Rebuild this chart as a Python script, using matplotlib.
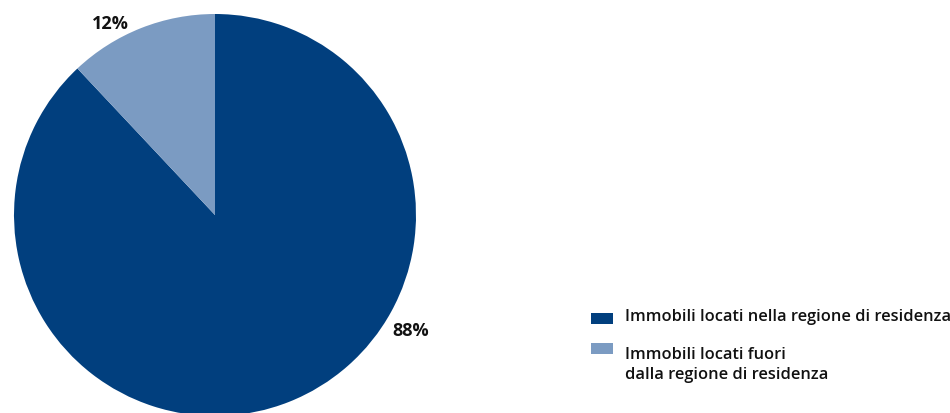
import numpy as np
import matplotlib
matplotlib.use("Agg")
import matplotlib.pyplot as plt
from matplotlib.patches import Rectangle

labels = ["Immobili locati nella regione di residenza",
          "Immobili locati fuori\ndalla regione di residenza"]
shares = [88, 12]
colors = ["#013F7E", "#7B9BC2"]
pct_text = ["88%", "12%"]

plt.rcParams["font.family"] = ["Open Sans", "DejaVu Sans"]

fig = plt.figure(figsize=(9.5, 4.14), dpi=100)
ax = fig.add_axes([0, 0, 1, 1])

cx, cy, r = 215, 198, 201
ax.pie(shares, colors=colors, startangle=90, counterclock=False,
       center=(cx, cy), radius=r, frame=True,
       wedgeprops=dict(linewidth=0))
ax.set_xlim(0, 950)
ax.set_ylim(0, 414)
ax.set_aspect("equal")
ax.axis("off")

# percentage labels sit just outside the rim
label_angles = [-30.5, 118.5]
label_radius = [227, 219]
for txt, ang, rr in zip(pct_text, label_angles, label_radius):
    a = np.deg2rad(ang)
    ax.text(cx + rr * np.cos(a), cy + rr * np.sin(a), txt,
            ha="center", va="center", fontsize=13, fontweight="bold",
            color="#111111")

# legend
ys = [95, 65]
for lab, col, y in zip(labels, colors, ys):
    ax.add_patch(Rectangle((591, y - 5.5), 22, 11, color=col, lw=0))
    ax.text(625, y + 2, lab, ha="left", va="top" if "\n" in lab else "center",
            fontsize=11.75, fontweight="semibold", color="#111111",
            linespacing=1.3)

fig.savefig("out.png", dpi=100)
